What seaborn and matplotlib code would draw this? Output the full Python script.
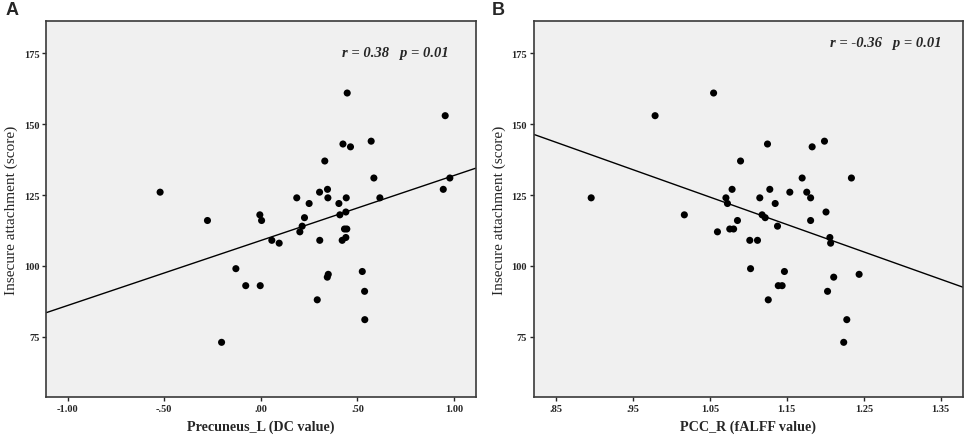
import matplotlib
matplotlib.use("Agg")
import matplotlib.pyplot as plt
from matplotlib.ticker import FuncFormatter
import pandas as pd
import seaborn as sns

# ── Data ──
dc_value = [0.447, 0.954, 0.425, 0.464, 0.571, 0.331, 0.585, 0.978, 0.944, -0.521,
            0.304, 0.345, 0.186, 0.347, 0.442, 0.616, 0.250, 0.404, -0.005, 0.409,
            0.440, -0.276, 0.004, 0.226, 0.214, 0.202, 0.433, 0.445, 0.057, 0.095,
            0.305, 0.421, 0.440, -0.129, 0.525, 0.349, 0.344, -0.078, -0.003, 0.537,
            0.292, 0.538, -0.203]
score_a = [161, 153, 143, 142, 144, 137, 131, 131, 127, 126,
           126, 127, 124, 124, 124, 124, 122, 122, 118, 118,
           119, 116, 116, 117, 114, 112, 113, 113, 109, 108,
           109, 109, 110, 99, 98, 97, 96, 93, 93, 91,
           88, 81, 73]

falff_value = [1.055, 0.979, 1.125, 1.183, 1.199, 1.090, 1.170, 1.234, 1.079, 1.128,
               1.154, 1.176, 0.896, 1.071, 1.115, 1.181, 1.073, 1.135, 1.017, 1.118,
               1.122, 1.201, 1.086, 1.181, 1.138, 1.060, 1.076, 1.081, 1.102, 1.112,
               1.206, 1.207, 1.103, 1.147, 1.244, 1.211, 1.139, 1.144, 1.203, 1.126,
               1.228, 1.224]
score_b = [161, 153, 143, 142, 144, 137, 131, 131, 127, 127,
           126, 126, 124, 124, 124, 124, 122, 122, 118, 118,
           117, 119, 116, 116, 114, 112, 113, 113, 109, 109,
           110, 108, 99, 98, 97, 96, 93, 93, 91, 88,
           81, 73]

y_ticks = [75, 100, 125, 150, 175]
xticks_a = [-1.00, -0.50, 0.00, 0.50, 1.00]
xticks_b = [0.85, 0.95, 1.05, 1.15, 1.25, 1.35]

df_a = pd.DataFrame({"x": dc_value, "y": score_a})
df_b = pd.DataFrame({"x": falff_value, "y": score_b})

sns.set_style("white")
plt.rcParams["font.family"] = ["Liberation Serif", "DejaVu Serif"]


def spss_fmt(v, _pos):
    # SPSS style: drop the leading zero (".50", "-.50")
    s = f"{v:.2f}"
    if s.startswith("0."):
        s = s[1:]
    elif s.startswith("-0."):
        s = "-" + s[2:]
    return s


fig = plt.figure(figsize=(9.64, 4.39), dpi=100)
ax_a = fig.add_axes([0.048, 0.0934, 0.4455, 0.857])
ax_b = fig.add_axes([0.554, 0.0934, 0.4447, 0.857])

panels = [
    (ax_a, df_a, (-1.11, 1.112), xticks_a, "Precuneus_L (DC value)",
     "r = 0.38   p = 0.01", (0.688, 0.916), "A", 0.006),
    (ax_b, df_b, (0.8218, 1.3786), xticks_b, "PCC_R (fALFF value)",
     "r = -0.36   p = 0.01", (0.690, 0.943), "B", 0.510),
]

for ax, df, xlim, xticks, xlabel, note, note_pos, letter, lx in panels:
    ax.set_facecolor("#f0f0f0")
    ax.set_xlim(*xlim)
    ax.set_ylim(53.7, 186.5)
    sns.regplot(data=df, x="x", y="y", ax=ax, ci=None, truncate=False,
                scatter_kws=dict(s=26, color="black", edgecolors="none", alpha=1),
                line_kws=dict(color="black", lw=1.0))
    ax.set_xlim(*xlim)
    ax.set_ylim(53.7, 186.5)
    ax.set_xticks(xticks)
    ax.set_yticks(y_ticks)
    ax.xaxis.set_major_formatter(FuncFormatter(spss_fmt))
    ax.tick_params(axis="both", direction="out", length=3, width=1,
                   labelsize=7.5, pad=2, bottom=True, left=True)
    for lab in ax.get_xticklabels() + ax.get_yticklabels():
        lab.set_fontweight("bold")
    for sp in ax.spines.values():
        sp.set_color("#3a3a3a")
        sp.set_linewidth(1.2)
    ax.set_xlabel(xlabel, fontsize=10.2, fontweight="bold", labelpad=5)
    ax.set_ylabel("Insecure attachment (score)", fontsize=11, labelpad=4)
    ax.text(note_pos[0], note_pos[1], note, transform=ax.transAxes,
            fontsize=10.5, fontweight="bold", fontstyle="italic", va="center")
    fig.text(lx, 0.975, letter, fontsize=13, fontweight="bold",
             family=["Liberation Sans", "DejaVu Sans"], va="center")

fig.savefig("out.png", dpi=100)
